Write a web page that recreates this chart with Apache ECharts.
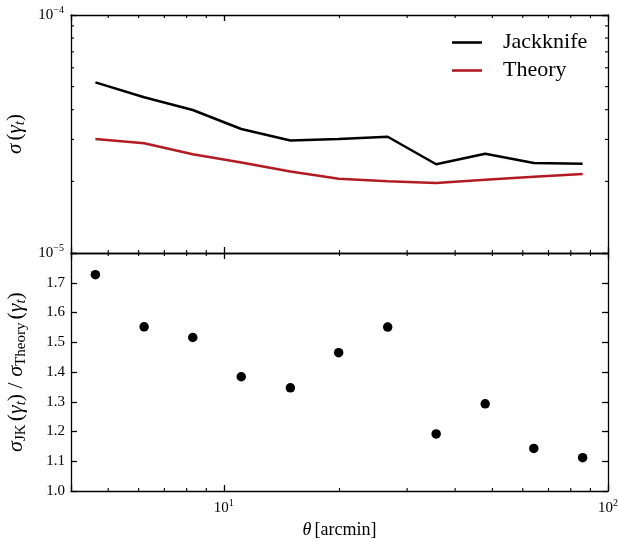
<!DOCTYPE html>
<html>
<head>
<meta charset="utf-8">
<script src="https://cdn.jsdelivr.net/npm/echarts@6/dist/echarts.min.js"></script>
<style>
  html, body { margin: 0; padding: 0; background: #fff; }
  #chart { width: 619px; height: 542px; }
</style>
</head>
<body>
<div id="chart"></div>
<script>
// Angular bins (arcmin)
const theta = [4.63, 6.20, 8.30, 11.1, 14.9, 19.9, 26.7, 35.7, 47.9, 64.1, 85.9];
// Standard deviation of the tangential shear
const sigmaJackknife = [5.21e-5, 4.51e-5, 3.99e-5, 3.32e-5, 2.97e-5, 3.01e-5, 3.08e-5, 2.36e-5, 2.61e-5, 2.39e-5, 2.37e-5];
const sigmaTheory = [3.01e-5, 2.89e-5, 2.60e-5, 2.40e-5, 2.20e-5, 2.05e-5, 2.00e-5, 1.97e-5, 2.03e-5, 2.09e-5, 2.15e-5];
// Jackknife / theory ratio
const sigmaRatio = [1.727, 1.552, 1.516, 1.384, 1.347, 1.465, 1.551, 1.192, 1.293, 1.143, 1.112];

// Axis ranges and tick values
const xRange = [4, 100];
const sigmaRange = [1e-5, 1e-4];
const ratioRange = [1.0, 1.8];
const ratioStep = 0.1;
const xMinorTicks = [5, 6, 7, 8, 9, 20, 30, 40, 50, 60, 70, 80, 90];
const sigmaMinorTicks = [2e-5, 3e-5, 4e-5, 5e-5, 6e-5, 7e-5, 8e-5, 9e-5];

const FONT = 'Liberation Serif';
const RED = '#b31b24';
const MAJOR = 6, MINOR = 3;

const powRich = {
  b: { fontFamily: FONT, fontSize: 15, color: '#000' },
  s: { fontFamily: FONT, fontSize: 10, color: '#000', padding: [0, 0, 10, 0] }
};
function powLabel(v) {
  const l = Math.log10(v);
  const p = Math.round(l);
  if (Math.abs(l - p) > 1e-6) return '';
  return '{b|10}{s|' + (p < 0 ? '\u2212' + (-p) : String(p)) + '}';
}

function nameRich(big, small, drop) {
  return {
    i: { fontFamily: FONT, fontSize: big, fontStyle: 'italic', color: '#000' },
    n: { fontFamily: FONT, fontSize: big, color: '#000' },
    si: { fontFamily: FONT, fontSize: small, fontStyle: 'italic', color: '#000', padding: [drop, 0, 0, 0] },
    sn: { fontFamily: FONT, fontSize: small, color: '#000', padding: [drop, 0, 0, 0] }
  };
}

const lineCol = { color: '#000', width: 1.3 };

function xAx(grid, pos, labels, extra) {
  return Object.assign({
    type: 'log', logBase: 10, gridIndex: grid, position: pos,
    min: xRange[0], max: xRange[1],
    axisLine: { show: true, onZero: false, lineStyle: lineCol },
    axisTick: { show: true, inside: true, length: MAJOR, lineStyle: lineCol },
    axisLabel: labels ? { show: true, margin: 7, formatter: powLabel, rich: powRich, showMinLabel: true, showMaxLabel: true } : { show: false },
    splitLine: { show: false }
  }, extra || {});
}

function tickSeries(name, grid, data, draw) {
  return {
    type: 'custom', name: name, silent: true, clip: false,
    xAxisIndex: grid * 2, yAxisIndex: grid * 2,
    data: data,
    renderItem: draw,
    z: 5
  };
}

function seg(a, b) {
  return { type: 'line', shape: { x1: a[0], y1: a[1], x2: b[0], y2: b[1] }, style: { stroke: '#000', lineWidth: 1.1 } };
}

// Minor x ticks on both horizontal edges of a panel
function xMinorDraw(yLo, yHi) {
  return function (params, api) {
    const v = api.value(0);
    const b = api.coord([v, yLo]);
    const t = api.coord([v, yHi]);
    return { type: 'group', children: [
      seg(b, [b[0], b[1] - MINOR]),
      seg(t, [t[0], t[1] + MINOR])
    ] };
  };
}
// Minor y ticks on both vertical edges
function yMinorDraw() {
  return function (params, api) {
    const v = api.value(1);
    const l = api.coord([xRange[0], v]);
    const r = api.coord([xRange[1], v]);
    return { type: 'group', children: [
      seg(l, [l[0] + MINOR, l[1]]),
      seg(r, [r[0] - MINOR, r[1]])
    ] };
  };
}

const chart = echarts.init(document.getElementById('chart'), null, { renderer: 'canvas' });

chart.setOption({
  backgroundColor: '#fff',
  animation: false,
  textStyle: { fontFamily: FONT, color: '#000' },
  grid: [
    { left: 71, width: 537, top: 15, height: 238, containLabel: false, outerBoundsMode: 'none' },
    { left: 71, width: 537, top: 253, height: 238, containLabel: false, outerBoundsMode: 'none' }
  ],
  legend: {
    data: ['Jackknife', 'Theory'],
    orient: 'vertical',
    left: 447, top: 26,
    icon: 'rect',
    itemWidth: 30, itemHeight: 2.6, itemGap: 5,
    textStyle: { fontFamily: FONT, fontSize: 22, color: '#000', padding: [0, 0, 0, 16], lineHeight: 23 }
  },
  xAxis: [
    xAx(0, 'bottom', false),
    xAx(0, 'top', false),
    xAx(1, 'bottom', true, {
      name: '{i|θ} {n|[arcmin]}', nameLocation: 'middle', nameGap: 30,
      nameTextStyle: { rich: nameRich(18, 13, 8) }
    }),
    xAx(1, 'top', false)
  ],
  yAxis: [
    {
      type: 'log', logBase: 10, gridIndex: 0, position: 'left',
      min: sigmaRange[0], max: sigmaRange[1],
      axisLine: { show: true, lineStyle: lineCol },
      axisTick: { show: true, inside: true, length: MAJOR, lineStyle: lineCol },
      axisLabel: { show: true, margin: 7, formatter: powLabel, rich: powRich, showMinLabel: true, showMaxLabel: true },
      splitLine: { show: false },
      name: '{i|σ} {n|(}{i|γ}{si|t}{n|)}', nameLocation: 'middle', nameGap: 43, nameRotate: 90,
      nameTextStyle: { rich: nameRich(21, 15, 9) }
    },
    {
      type: 'log', logBase: 10, gridIndex: 0, position: 'right',
      min: sigmaRange[0], max: sigmaRange[1],
      axisLine: { show: true, lineStyle: lineCol },
      axisTick: { show: true, inside: true, length: MAJOR, lineStyle: lineCol },
      axisLabel: { show: false }, splitLine: { show: false }
    },
    {
      type: 'value', gridIndex: 1, position: 'left',
      min: ratioRange[0], max: ratioRange[1], interval: ratioStep,
      axisLine: { show: true, onZero: false, lineStyle: lineCol },
      axisTick: { show: true, inside: true, length: MAJOR, lineStyle: lineCol },
      axisLabel: {
        show: true, margin: 6, fontFamily: FONT, fontSize: 15, color: '#000',
        formatter: function (v) { return v >= ratioRange[1] - 1e-9 ? '' : v.toFixed(1); }
      },
      splitLine: { show: false },
      name: '{i|σ}{sn|JK} {n|(}{i|γ}{si|t}{n|) / }{i|σ}{sn|Theory} {n|(}{i|γ}{si|t}{n|)}',
      nameLocation: 'middle', nameGap: 42, nameRotate: 90,
      nameTextStyle: { rich: nameRich(22, 15, 10) }
    },
    {
      type: 'value', gridIndex: 1, position: 'right',
      min: ratioRange[0], max: ratioRange[1], interval: ratioStep,
      axisLine: { show: true, onZero: false, lineStyle: lineCol },
      axisTick: { show: true, inside: true, length: MAJOR, lineStyle: lineCol },
      axisLabel: { show: false }, splitLine: { show: false }
    }
  ],
  series: [
    {
      name: 'Jackknife', type: 'line', xAxisIndex: 0, yAxisIndex: 0,
      data: theta.map((t, i) => [t, sigmaJackknife[i]]),
      symbol: 'none', lineStyle: { color: '#000', width: 2.5 }, itemStyle: { color: '#000' }, z: 3
    },
    {
      name: 'Theory', type: 'line', xAxisIndex: 0, yAxisIndex: 0,
      data: theta.map((t, i) => [t, sigmaTheory[i]]),
      symbol: 'none', lineStyle: { color: RED, width: 2.5 }, itemStyle: { color: RED }, z: 3
    },
    {
      name: 'ratio', type: 'scatter', xAxisIndex: 2, yAxisIndex: 2,
      data: theta.map((t, i) => [t, sigmaRatio[i]]),
      symbol: 'circle', symbolSize: 9.5, itemStyle: { color: '#000', opacity: 1 }, z: 3
    },
    tickSeries('xMinorTop', 0, xMinorTicks.map(v => [v, sigmaRange[0]]), xMinorDraw(sigmaRange[0], sigmaRange[1])),
    tickSeries('yMinorTop', 0, sigmaMinorTicks.map(v => [xRange[0], v]), yMinorDraw()),
    tickSeries('xMinorBottom', 1, xMinorTicks.map(v => [v, ratioRange[0]]), xMinorDraw(ratioRange[0], ratioRange[1]))
  ]
});
</script>
</body>
</html>
